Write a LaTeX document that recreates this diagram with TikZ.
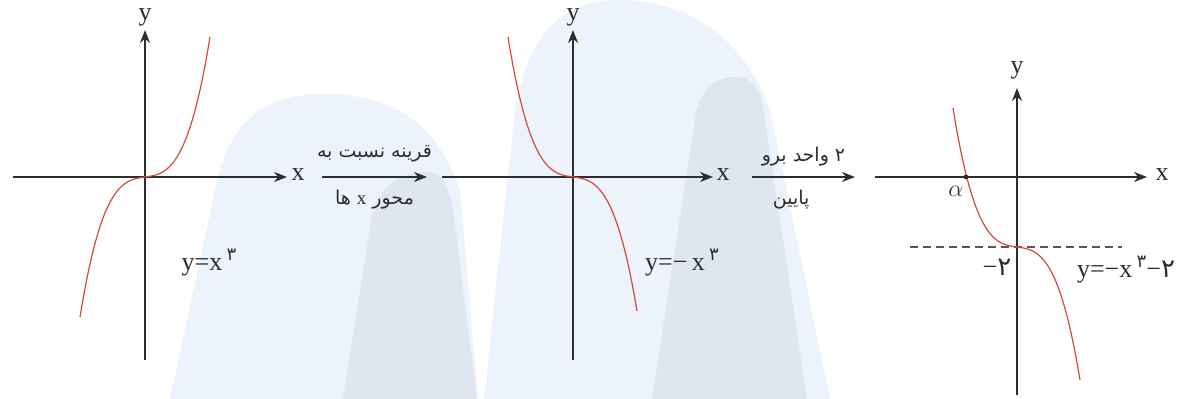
\documentclass[tikz,border=0pt]{standalone}
\usepackage{fontspec}
\setmainfont{Liberation Serif}
\newfontfamily\arabicfont[Script=Arabic]{DejaVu Sans}
\TeXXeTstate=1
\usetikzlibrary{arrows.meta}
\definecolor{axisgray}{RGB}{45,45,45}
\definecolor{curvered}{RGB}{214,72,60}
\definecolor{wmlight}{RGB}{236,243,250}
\definecolor{wmdark}{RGB}{222,231,240}
\newcommand{\fa}[1]{{\arabicfont\beginR #1\endR}}
\newcommand{\fadigit}[1]{{\arabicfont #1}}
\newcommand{\fasup}[1]{\raisebox{0.85ex}{\arabicfont\fontsize{9}{9}\selectfont #1}}

\begin{document}
\begin{tikzpicture}[x=0.5pt, y=-0.5pt, >={Stealth[length=6.5pt,width=5pt]},
    axisline/.style={->, line width=0.7pt, draw=axisgray},
    cubic/.style={line width=0.6pt, draw=curvered},
    lbl/.style={inner sep=0pt, font=\fontsize{13}{15}\selectfont, text=axisgray},
    farsi/.style={inner sep=0pt, font=\arabicfont\fontsize{9.5}{11}\selectfont, text=axisgray}]
    \useasboundingbox (0,0) rectangle (1191,399);

    % watermark arches
    \fill[wmlight] (170,399) -- (213,200) .. controls (225,130) and (255,95) .. (320,94)
        .. controls (400,93) and (440,130) .. (460,190) -- (478,399) -- cycle;
    \fill[wmdark] (343,399) -- (372,215) .. controls (380,185) and (400,172) .. (428,172)
        .. controls (445,172) and (452,195) .. (455,225) -- (477,399) -- cycle;
    \fill[wmlight] (484,399) -- (515,110) .. controls (528,35) and (560,0) .. (620,0)
        .. controls (690,0) and (745,40) .. (770,110) -- (830,399) -- cycle;
    \fill[wmdark] (652,399) -- (695,120) .. controls (700,88) and (715,77) .. (735,77)
        .. controls (755,77) and (762,92) .. (765,120) -- (807,399) -- cycle;

    % y = x^3
    \coordinate (xl1) at (13,177);
    \coordinate (xr1) at (287,177);
    \coordinate (yb1) at (145,360);
    \coordinate (yt1) at (145,30);
    \draw[axisline] (xl1) -- (xr1);
    \draw[axisline] (yb1) -- (yt1);
    \node[lbl] (x1) at (298,175) {x};
    \node[lbl] (y1) at (145,17) {y};
    \draw[cubic] plot[domain=-65:65, samples=60]
        ({145+\x},{177-131.2*(\x/65)*(\x/65)*(\x/65)-8.8*(\x/65)});
    \node[lbl] (eq1) at (209,263) {y=x\,\fasup{۳}};

    % reflect about the x axis
    \coordinate (a1s) at (322,177);
    \coordinate (a1e) at (427,177);
    \draw[->, line width=0.7pt, axisgray] (a1s) -- (a1e)
        node[midway, above=7pt, farsi] (m1a) {\fa{قرینه نسبت به}}
        node[midway, below=6pt, farsi] (m1b) {\fa{محور {\rmfamily x} ها}};

    % y = -x^3
    \coordinate (xl2) at (442,177);
    \coordinate (xr2) at (713,177);
    \coordinate (yb2) at (573,360);
    \coordinate (yt2) at (573,30);
    \draw[axisline] (xl2) -- (xr2);
    \draw[axisline] (yb2) -- (yt2);
    \node[lbl] (x2) at (723,175) {x};
    \node[lbl] (y2) at (573,17) {y};
    \draw[cubic] plot[domain=-65:64, samples=60]
        ({573+\x},{177+131.2*(\x/65)*(\x/65)*(\x/65)+8.8*(\x/65)});
    \node[lbl] (eq2) at (682,263) {y=−\,x\,\fasup{۳}};

    % shift down by 2
    \coordinate (a2s) at (752,177);
    \coordinate (a2e) at (855,177);
    \draw[->, line width=0.7pt, axisgray] (a2s) -- (a2e)
        node[midway, above=5pt, farsi] (m2a) {\fa{۲ واحد برو}}
        node[pos=0.38, below=6pt, farsi] (m2b) {\fa{پایین}};

    % y = -x^3 - 2
    \coordinate (xl3) at (875,177);
    \coordinate (xr3) at (1147,177);
    \coordinate (yb3) at (1017,395);
    \coordinate (yt3) at (1017,88);
    \coordinate (dl) at (910,247);
    \coordinate (dr) at (1122,247);
    \draw[axisline] (xl3) -- (xr3);
    \draw[axisline] (yb3) -- (yt3);
    \draw[dashed, dash pattern=on 4pt off 2.5pt, line width=0.6pt, axisgray!80] (dl) -- (dr);
    \node[lbl] (x3) at (1162,175) {x};
    \node[lbl] (y3) at (1017,70) {y};
    \draw[cubic] plot[domain=-64:63, samples=60]
        ({1017+\x},{247+130.3*(\x/64)*(\x/64)*(\x/64)+8.7*(\x/64)});
    \coordinate (alpha) at (966,177);
    \fill[axisgray] (alpha) circle (2.4);
    \node[lbl] (a3) at (956,191) {$\alpha$};
    \node[lbl] (m3) at (997,267) {−\fadigit{۲}};
    \node[lbl] (eq3) at (1126,270) {y=−x\,\fasup{۳}−\fadigit{۲}};
\end{tikzpicture}
\end{document}
